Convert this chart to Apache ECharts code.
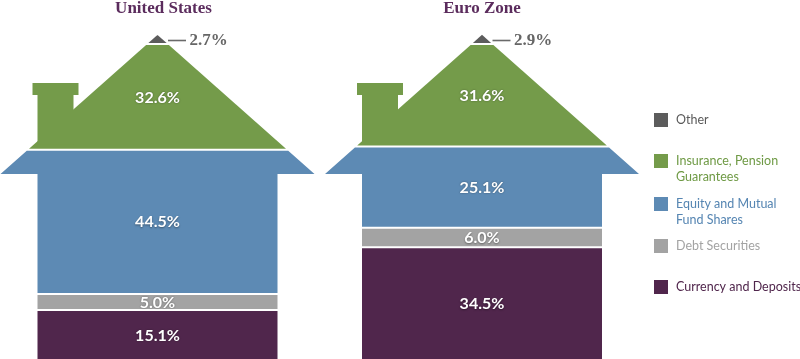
<!DOCTYPE html>
<html><head><meta charset="utf-8">
<script src="https://cdn.jsdelivr.net/npm/echarts@6/dist/echarts.min.js"></script>
<style>html,body{margin:0;padding:0;background:#fff}#c{width:800px;height:359px}</style>
</head><body><div id="c"></div>
<script>
// ---- data ----
const categories = ['United States', 'Euro Zone'];
const seriesNames = ['Currency and Deposits', 'Debt Securities', 'Equity and Mutual Fund Shares', 'Insurance, Pension Guarantees', 'Other'];
const currencyDeposits = [15.1, 34.5];
const debtSecurities = [5.0, 6.0];
const equityFunds = [44.5, 25.1];
const insurancePension = [32.6, 31.6];
const otherAssets = [2.7, 2.9];
const legendOrder = ['Other', 'Insurance, Pension Guarantees', 'Equity and Mutual Fund Shares', 'Debt Securities', 'Currency and Deposits'];
const legendLabels = ['Other', 'Insurance, Pension\nGuarantees', 'Equity and Mutual\nFund Shares', 'Debt Securities', 'Currency and Deposits'];

// ---- styles ----
const layerValues = [currencyDeposits, debtSecurities, equityFunds, insurancePension, otherAssets];
const layerColors = ['#50264c', '#a3a3a3', '#5d8ab4', '#749b4a', '#5c5c5c'];
const legendTextColors = ['#5a5a5a', '#6f9a45', '#5585b2', '#a3a3a3', '#50264c'];
const legendTops = [112, 137, 180, 238, 279];

const SLOPE = 1.13, EAVE_HALF = 157, BODY_HALF = 120, GAP = 2;
const CH = {capTop: 48, capBot: 60, capL: -125, capR: -79, stemL: -120, stemR: -84};

function makeRender(layer, nLayers) {
  return function (params, api) {
    const idx = api.value(0), lo = api.value(1), hi = api.value(2), val = api.value(3);
    const cx = api.coord([idx, 0])[0];
    const apexY = api.coord([idx, 100])[1];
    const eaveY = apexY + EAVE_HALF / SLOPE;
    const hw = y => (y < eaveY ? Math.max(0, (y - apexY) * SLOPE) : BODY_HALF);
    let yTop = api.coord([idx, hi])[1];
    let yBot = api.coord([idx, lo])[1];
    if (layer < nLayers - 1) yTop += GAP / 2;
    if (layer > 0) yBot -= GAP / 2;
    const left = [[cx - hw(yTop), yTop]];
    if (yTop < eaveY && yBot > eaveY) {
      left.push([cx - (eaveY - apexY) * SLOPE, eaveY], [cx - BODY_HALF, eaveY]);
    }
    left.push([cx - hw(yBot), yBot]);
    const right = left.map(p => [2 * cx - p[0], p[1]]).reverse();
    const color = layerColors[layer];
    const children = [{type: 'polygon', shape: {points: left.concat(right)}, style: {fill: color}}];
    // chimney
    const stemBottom = apexY + (-CH.stemL) / SLOPE + 3;
    if (yTop <= apexY + CH.capTop && yBot >= stemBottom) {
      children.push({type: 'rect', shape: {x: cx + CH.capL, y: apexY + CH.capTop, width: CH.capR - CH.capL, height: CH.capBot - CH.capTop}, style: {fill: color}});
      children.push({type: 'rect', shape: {x: cx + CH.stemL, y: apexY + CH.capBot - 0.5, width: CH.stemR - CH.stemL, height: stemBottom - (apexY + CH.capBot) + 0.5}, style: {fill: color}});
    }
    const txt = val.toFixed(1) + '%';
    if (layer === nLayers - 1) {
      const ly = apexY + 5.5;
      children.push({type: 'line', shape: {x1: cx + 10.5, y1: ly, x2: cx + 28.5, y2: ly}, style: {stroke: '#6a6a6a', lineWidth: 1.6}});
      children.push({type: 'text', style: {x: cx + 32, y: ly + 0.5, text: txt, fill: '#666666', font: 'bold 17px "Liberation Serif"', verticalAlign: 'middle', align: 'left'}});
    } else {
      children.push({type: 'text', style: {x: cx, y: (yTop + yBot) / 2 + 0.5, text: txt, fill: '#ffffff', font: 'bold 16px Lato', verticalAlign: 'middle', align: 'center', textShadowColor: 'rgba(0,0,0,0.4)', textShadowBlur: 2, textShadowOffsetY: 0.5}});
    }
    return {type: 'group', children};
  };
}

const series = seriesNames.map((name, layer) => {
  const data = categories.map((c, i) => {
    let lo = 0;
    for (let k = 0; k < layer; k++) lo += layerValues[k][i];
    const v = layerValues[layer][i];
    return [i, lo, lo + v, v];
  });
  return {
    name, type: 'custom', coordinateSystem: 'cartesian2d',
    encode: {x: 0, y: [1, 2]}, clip: false,
    itemStyle: {color: layerColors[layer]},
    renderItem: makeRender(layer, seriesNames.length),
    data
  };
});

const legends = legendOrder.map((name, i) => {
  const twoLine = legendLabels[i].indexOf('\n') >= 0;
  return {
    data: [name], left: 654, top: legendTops[i], orient: 'vertical', padding: 0,
    icon: 'rect', itemWidth: 14, itemHeight: 14, selectedMode: false,
    formatter: () => (twoLine ? '\n' : '') + legendLabels[i],
    textStyle: {fontFamily: 'Lato', fontSize: 12.5, lineHeight: 16, color: legendTextColors[i],
      padding: [0, 0, 0, 3], overflow: 'none', width: 150}
  };
});

const chart = echarts.init(document.getElementById('c'), null, {renderer: 'canvas'});
chart.setOption({
  animation: false,
  grid: {left: 157.5, right: 318, top: 35, bottom: 0},
  xAxis: {
    type: 'category', data: categories, boundaryGap: false, position: 'top',
    axisLine: {show: false}, axisTick: {show: false}, splitLine: {show: false},
    axisLabel: {
      margin: 18,
      formatter: (v, i) => i === 0 ? '{a|' + v + '}' : '{b|' + v + '}',
      rich: {
        a: {fontFamily: 'Liberation Serif', fontWeight: 'bold', fontSize: 17, color: '#5b2c5d', padding: [0, 0, 0, 12]},
        b: {fontFamily: 'Liberation Serif', fontWeight: 'bold', fontSize: 17, color: '#5b2c5d'}
      }
    }
  },
  yAxis: {type: 'value', min: 0, max: 100, show: false},
  legend: legends,
  series
});
</script>
</body></html>
